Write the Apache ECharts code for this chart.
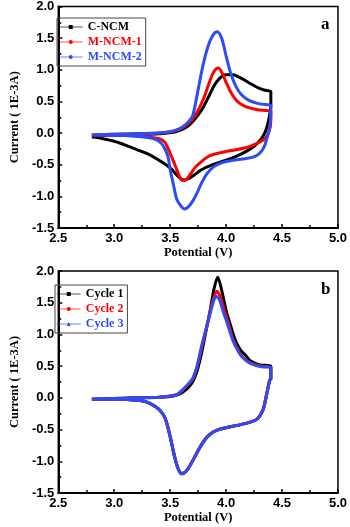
<!DOCTYPE html>
<html>
<head>
<meta charset="utf-8">
<script src="https://cdn.jsdelivr.net/npm/echarts@6/dist/echarts.min.js"></script>
<style>
  html, body { margin: 0; padding: 0; background: #fff; }
  #main { width: 350px; height: 527px; }
</style>
</head>
<body>
<div id="main"></div>
<script>
// CV curves, [potential (V), current (1E-3A)], anodic sweep then cathodic sweep
// panel a
const cNcm = [
  [2.80, -0.05], [3.00, -0.03], [3.20, -0.02], [3.40, -0.01], [3.55, 0.02], [3.65, 0.10],
  [3.72, 0.22], [3.78, 0.36], [3.84, 0.56], [3.89, 0.74], [3.94, 0.86], [4.00, 0.92],
  [4.06, 0.92], [4.12, 0.88], [4.20, 0.80], [4.28, 0.72], [4.34, 0.68], [4.40, 0.65],
  [4.40, 0.45], [4.38, 0.20], [4.35, 0.02], [4.31, -0.10], [4.25, -0.21], [4.18, -0.29],
  [4.10, -0.36], [4.00, -0.43], [3.88, -0.50], [3.78, -0.58], [3.70, -0.68], [3.63, -0.74],
  [3.58, -0.70], [3.50, -0.55], [3.40, -0.43], [3.30, -0.33], [3.20, -0.26], [3.10, -0.19],
  [3.00, -0.13], [2.90, -0.09], [2.80, -0.06]
];
const mNcm1 = [
  [2.80, -0.03], [3.00, -0.02], [3.20, -0.01], [3.40, 0.00], [3.50, 0.02], [3.58, 0.06],
  [3.64, 0.12], [3.70, 0.22], [3.75, 0.36], [3.80, 0.55], [3.85, 0.80], [3.89, 0.97],
  [3.93, 1.03], [3.97, 0.93], [4.00, 0.80], [4.05, 0.62], [4.10, 0.50], [4.17, 0.42],
  [4.25, 0.38], [4.32, 0.36], [4.40, 0.35],
  [4.40, 0.20], [4.38, 0.00], [4.34, -0.10], [4.28, -0.16], [4.20, -0.22], [4.10, -0.26],
  [4.00, -0.29], [3.90, -0.33], [3.84, -0.37], [3.78, -0.45], [3.73, -0.53], [3.68, -0.65],
  [3.63, -0.75], [3.60, -0.74], [3.56, -0.58], [3.50, -0.32], [3.45, -0.14], [3.40, -0.09],
  [3.30, -0.06], [3.10, -0.04], [2.80, -0.03]
];
const mNcm2 = [
  [2.80, -0.03], [3.00, -0.02], [3.20, -0.01], [3.40, 0.00], [3.50, 0.02], [3.57, 0.06],
  [3.62, 0.11], [3.66, 0.17], [3.70, 0.27], [3.73, 0.50], [3.76, 0.78], [3.80, 1.12],
  [3.84, 1.38], [3.88, 1.54], [3.92, 1.60], [3.96, 1.50], [4.00, 1.22], [4.04, 0.95],
  [4.09, 0.73], [4.14, 0.60], [4.20, 0.52], [4.28, 0.47], [4.35, 0.45], [4.40, 0.44],
  [4.40, 0.30], [4.39, 0.10], [4.37, -0.05], [4.34, -0.22], [4.30, -0.32], [4.24, -0.38],
  [4.15, -0.41], [4.06, -0.43], [3.96, -0.47], [3.89, -0.53], [3.83, -0.64], [3.78, -0.79],
  [3.74, -0.95], [3.70, -1.08], [3.66, -1.17], [3.63, -1.20], [3.60, -1.16], [3.56, -1.05],
  [3.53, -0.82], [3.50, -0.58], [3.48, -0.37], [3.45, -0.24], [3.42, -0.16], [3.37, -0.10],
  [3.30, -0.07], [3.10, -0.04], [2.80, -0.03]
];
// panel b
const cycle1 = [
  [2.80, -0.02], [3.00, -0.01], [3.20, 0.00], [3.40, 0.01], [3.50, 0.02], [3.57, 0.05],
  [3.62, 0.10], [3.66, 0.16], [3.70, 0.25], [3.74, 0.42], [3.78, 0.70], [3.82, 1.05],
  [3.86, 1.40], [3.89, 1.70], [3.925, 1.90], [3.96, 1.70], [4.00, 1.38], [4.03, 1.20],
  [4.08, 0.92], [4.13, 0.75], [4.17, 0.68], [4.22, 0.58], [4.30, 0.52], [4.40, 0.50],
  [4.40, 0.30], [4.39, 0.28], [4.37, 0.12], [4.35, -0.05], [4.33, -0.19], [4.28, -0.33],
  [4.20, -0.39], [4.11, -0.43], [4.00, -0.47], [3.92, -0.51], [3.86, -0.57], [3.81, -0.66],
  [3.76, -0.80], [3.72, -0.93], [3.67, -1.09], [3.63, -1.18], [3.60, -1.19], [3.57, -1.11],
  [3.54, -0.93], [3.50, -0.61], [3.47, -0.40], [3.45, -0.30], [3.41, -0.20], [3.37, -0.14],
  [3.30, -0.07], [3.23, -0.04], [3.00, -0.02], [2.80, -0.02]
];
const cycle2 = [
  [2.80, -0.02], [3.00, -0.01], [3.20, 0.00], [3.40, 0.01], [3.50, 0.03], [3.56, 0.05],
  [3.60, 0.10], [3.64, 0.17], [3.70, 0.29], [3.74, 0.48], [3.78, 0.78], [3.82, 1.07],
  [3.85, 1.30], [3.88, 1.52], [3.92, 1.68], [3.95, 1.58], [3.98, 1.40], [4.02, 1.18],
  [4.06, 0.93], [4.10, 0.78], [4.14, 0.66], [4.20, 0.57], [4.25, 0.53], [4.32, 0.50],
  [4.40, 0.48],
  [4.40, 0.30], [4.39, 0.28], [4.37, 0.12], [4.35, -0.05], [4.33, -0.19], [4.28, -0.33],
  [4.20, -0.39], [4.11, -0.43], [4.00, -0.47], [3.92, -0.51], [3.86, -0.57], [3.81, -0.66],
  [3.76, -0.80], [3.72, -0.93], [3.67, -1.09], [3.63, -1.18], [3.60, -1.19], [3.57, -1.11],
  [3.54, -0.93], [3.50, -0.61], [3.47, -0.40], [3.45, -0.30], [3.41, -0.20], [3.37, -0.14],
  [3.30, -0.07], [3.23, -0.04], [3.00, -0.02], [2.80, -0.02]
];
const cycle3 = [
  [2.80, -0.02], [3.00, -0.01], [3.20, 0.00], [3.40, 0.01], [3.50, 0.03], [3.56, 0.05],
  [3.60, 0.11], [3.64, 0.18], [3.70, 0.30], [3.74, 0.50], [3.78, 0.81], [3.82, 1.08],
  [3.85, 1.28], [3.88, 1.48], [3.91, 1.60], [3.94, 1.55], [3.97, 1.38], [4.00, 1.23],
  [4.06, 0.91], [4.10, 0.76], [4.14, 0.65], [4.20, 0.56], [4.25, 0.52], [4.32, 0.49],
  [4.40, 0.48],
  [4.40, 0.30], [4.39, 0.28], [4.37, 0.12], [4.35, -0.05], [4.33, -0.19], [4.28, -0.33],
  [4.20, -0.39], [4.11, -0.43], [4.00, -0.47], [3.92, -0.51], [3.86, -0.57], [3.81, -0.66],
  [3.76, -0.80], [3.72, -0.93], [3.67, -1.09], [3.63, -1.18], [3.60, -1.20], [3.57, -1.11],
  [3.54, -0.93], [3.50, -0.61], [3.47, -0.40], [3.45, -0.30], [3.41, -0.20], [3.37, -0.14],
  [3.30, -0.07], [3.23, -0.04], [3.00, -0.02], [2.80, -0.02]
];

const namesA = ['C-NCM', 'M-NCM-1', 'M-NCM-2'];
const namesB = ['Cycle 1', 'Cycle 2', 'Cycle 3'];
const colors = ['#000000', '#ff0000', '#2b4cf6'];

const serif = 'Liberation Serif';
const sans = 'Liberation Sans';

function xAxisFor (gridIndex) {
  return {
    type: 'value',
    gridIndex: gridIndex,
    min: 2.5,
    max: 5.0,
    interval: 0.5,
    name: 'Potential (V)',
    nameLocation: 'middle',
    nameGap: 15,
    nameTextStyle: { fontFamily: serif, fontWeight: 'bold', fontSize: 12.5, color: '#000' },
    axisLine: { onZero: false, lineStyle: { color: '#000', width: 2 } },
    axisTick: { inside: true, length: 4, lineStyle: { color: '#000', width: 1.5 } },
    minorTick: { show: true, splitNumber: 2, length: 3, lineStyle: { color: '#000', width: 1.5 } },
    axisLabel: {
      formatter: v => v.toFixed(1),
      fontFamily: sans, fontWeight: 'bold', fontSize: 13, color: '#000', margin: 4
    },
    splitLine: { show: false }
  }
}

function yAxisFor (gridIndex) {
  return {
    type: 'value',
    gridIndex: gridIndex,
    min: -1.5,
    max: 2.0,
    interval: 0.5,
    name: 'Current ( 1E-3A)',
    nameLocation: 'middle',
    nameGap: 29,
    nameTextStyle: { fontFamily: serif, fontWeight: 'bold', fontSize: 12.5, color: '#000' },
    axisLine: { onZero: false, lineStyle: { color: '#000', width: 2 } },
    axisTick: { inside: true, length: 4, lineStyle: { color: '#000', width: 1.5 } },
    minorTick: { show: true, splitNumber: 2, length: 3, lineStyle: { color: '#000', width: 1.5 } },
    axisLabel: {
      formatter: v => v.toFixed(1),
      fontFamily: sans, fontWeight: 'bold', fontSize: 13, color: '#000', margin: 4
    },
    splitLine: { show: false }
  }
}

function legendFor (names, left, top) {
  return {
    data: names.map((n, i) => ({ name: n, textStyle: { color: colors[i] } })),
    orient: 'vertical',
    left: left,
    top: top,
    padding: [3, 4, 3, 1],
    itemWidth: 24,
    itemHeight: 5,
    itemGap: 3,
    borderColor: '#444',
    borderWidth: 1,
    lineStyle: { width: 1.5, opacity: 0.45 },
    textStyle: { fontFamily: serif, fontWeight: 'bold', fontSize: 12 }
  }
}

function seriesFor (name, data, idx, color, symbol) {
  return {
    name: name,
    type: 'line',
    xAxisIndex: idx,
    yAxisIndex: idx,
    data: data,
    smooth: 0.3,
    showSymbol: false,
    symbol: symbol,
    lineStyle: { width: 3, color: color },
    itemStyle: { color: color }
  }
}

const chart = echarts.init(document.getElementById('main'))
chart.setOption({
  animation: false,
  backgroundColor: '#fff',
  title: [
    { text: 'a', left: 316, top: 11, textStyle: { fontFamily: serif, fontWeight: 'bold', fontSize: 17, color: '#000' } },
    { text: 'b', left: 316, top: 276, textStyle: { fontFamily: serif, fontWeight: 'bold', fontSize: 17, color: '#000' } }
  ],
  grid: [
    { left: 40, top: 6, width: 299, height: 222, show: true, borderColor: '#000', borderWidth: 1.5 },
    { left: 39, top: 271, width: 301, height: 222, show: true, borderColor: '#000', borderWidth: 1.5 }
  ],
  xAxis: [xAxisFor(0), xAxisFor(1)],
  yAxis: [yAxisFor(0), yAxisFor(1)],
  legend: [legendFor(namesA, 57, 18), legendFor(namesB, 55, 285)],
  series: [
    seriesFor(namesA[0], cNcm, 0, colors[0], 'rect'),
    seriesFor(namesA[1], mNcm1, 0, colors[1], 'circle'),
    seriesFor(namesA[2], mNcm2, 0, colors[2], 'circle'),
    seriesFor(namesB[0], cycle1, 1, colors[0], 'rect'),
    seriesFor(namesB[1], cycle2, 1, colors[1], 'circle'),
    seriesFor(namesB[2], cycle3, 1, colors[2], 'triangle')
  ]
})
</script>
</body>
</html>
